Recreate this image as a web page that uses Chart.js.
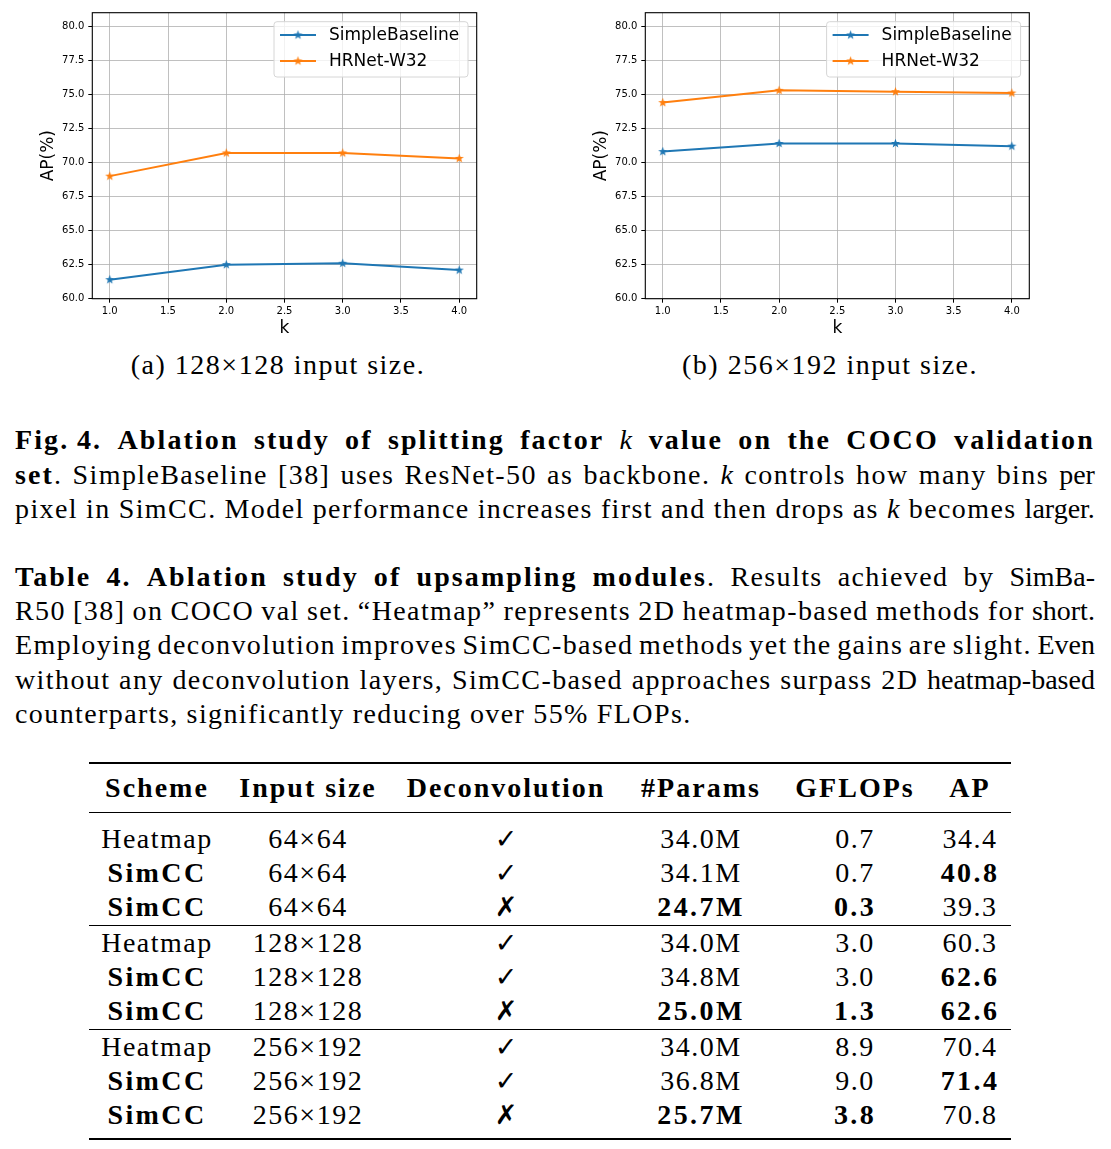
<!DOCTYPE html>
<html><head><meta charset="utf-8">
<script src="https://cdn.jsdelivr.net/npm/chart.js@4"></script>
<style>
html,body{margin:0;padding:0;background:#fff;}
body{width:1111px;height:1149px;position:relative;overflow:hidden;font-family:"Liberation Serif","Times New Roman",serif;color:#000;}
canvas.ch{position:absolute;top:0;}
.cap{position:absolute;width:440px;height:34px;line-height:34px;font-size:28px;letter-spacing:1.5px;text-align:center;white-space:nowrap;}
.ln{position:absolute;left:15px;width:1080px;height:34px;line-height:34px;font-size:28px;letter-spacing:1.4px;display:flex;justify-content:space-between;white-space:nowrap;}
.ln b{letter-spacing:2.1px;}
.ln span:last-child{letter-spacing:0;}
.ln.left{justify-content:flex-start;gap:8px;}
.ln.left span:last-child{letter-spacing:1.4px;}
.rule{position:absolute;left:89px;width:922px;background:#000;}
.cell{position:absolute;width:240px;height:34px;line-height:34px;font-size:28px;letter-spacing:1.5px;text-align:center;white-space:nowrap;}
.hd{font-weight:bold;letter-spacing:2px;}
.bf{font-weight:bold;letter-spacing:2.4px;}
.mk{font-family:"DejaVu Sans",sans-serif;font-size:27px;letter-spacing:0;}
</style>
</head><body>
<canvas id="chartA" class="ch" width="460" height="340" style="left:30px"></canvas>
<canvas id="chartB" class="ch" width="460" height="340" style="left:585px"></canvas>
<div id="texts"></div>
<script>
// ---- chart data ----
const kValues = [1, 2, 3, 4];
const seriesNames = ['SimpleBaseline', 'HRNet-W32'];
const sbA = [61.4, 62.5, 62.6, 62.1];
const hrA = [69.0, 70.7, 70.7, 70.3];
const sbB = [70.8, 71.4, 71.4, 71.2];
const hrB = [74.4, 75.3, 75.2, 75.1];
const yTicks = [60, 62.5, 65, 67.5, 70, 72.5, 75, 77.5, 80];
const xTicks = [1, 1.5, 2, 2.5, 3, 3.5, 4];
const yLabel = 'AP(%)';
const xLabel = 'k';
const subCaptions = ['(a) 128×128 input size.', '(b) 256×192 input size.'];

// ---- table data ----
const schemes = ['Heatmap','SimCC','SimCC','Heatmap','SimCC','SimCC','Heatmap','SimCC','SimCC'];
const inputSizes = ['64×64','64×64','64×64','128×128','128×128','128×128','256×192','256×192','256×192'];
const deconv = [true,true,false,true,true,false,true,true,false];
const params = ['34.0M','34.1M','24.7M','34.0M','34.8M','25.0M','34.0M','36.8M','25.7M'];
const gflops = ['0.7','0.7','0.3','3.0','3.0','1.3','8.9','9.0','3.8'];
const apVals = ['34.4','40.8','39.3','60.3','62.6','62.6','70.4','71.4','70.8'];
const apBold = [false,true,false,false,true,true,false,true,false];
const headers = ['Scheme','Input size','Deconvolution','#Params','GFLOPs','AP'];

const C0 = '#1f77b4', C1 = '#ff7f0e';

function starImg(color){
  const c = document.createElement('canvas'); c.width = 11; c.height = 11;
  const g = c.getContext('2d'); g.fillStyle = color; g.beginPath();
  for (let i = 0; i < 10; i++) {
    const r = i % 2 ? 2.0 : 4.8; const a = -Math.PI/2 + i*Math.PI/5;
    g.lineTo(5.5 + r*Math.cos(a), 5.5 + r*Math.sin(a));
  }
  g.closePath(); g.fill(); return c;
}
const starC0 = starImg(C0), starC1 = starImg(C1);

const boxPlugin = {
  id: 'mplBox',
  afterDraw(chart){
    const {ctx, chartArea: a} = chart;
    ctx.save();
    ctx.strokeStyle = '#000'; ctx.lineWidth = 1.1;
    ctx.strokeRect(a.left, a.top, a.right - a.left, a.bottom - a.top);
    // legend
    const w = 194, h = 55.3;
    const x0 = a.right - 8.7 - w, y0 = a.top + 9;
    ctx.beginPath();
    ctx.roundRect(x0, y0, w, h, 3);
    ctx.fillStyle = 'rgba(255,255,255,0.8)'; ctx.fill();
    ctx.strokeStyle = '#d6d6d6'; ctx.lineWidth = 1; ctx.stroke();
    const rows = [[y0 + 13.3, C0, starC0], [y0 + 39.3, C1, starC1]];
    rows.forEach((r, i) => {
      ctx.strokeStyle = r[1]; ctx.lineWidth = 2;
      ctx.beginPath(); ctx.moveTo(x0 + 6, r[0]); ctx.lineTo(x0 + 42, r[0]); ctx.stroke();
      ctx.drawImage(r[2], x0 + 24 - 5.5, r[0] - 5.5);
      ctx.fillStyle = '#000'; ctx.font = '17px "DejaVu Sans"'; ctx.textBaseline = 'middle'; ctx.textAlign = 'left';
      ctx.fillText(seriesNames[i], x0 + 55, r[0] + 1);
    });
    ctx.restore();
  }
};

function makeChart(id, sb, hr, yw, padRight, titlePad){
  return new Chart(document.getElementById(id), {
    type: 'line',
    data: {
      datasets: [
        {label: seriesNames[0], data: kValues.map((k,i)=>({x:k, y:sb[i]})), borderColor: C0, backgroundColor: C0, borderWidth: 2, pointStyle: starC0, pointRadius: 5, tension: 0},
        {label: seriesNames[1], data: kValues.map((k,i)=>({x:k, y:hr[i]})), borderColor: C1, backgroundColor: C1, borderWidth: 2, pointStyle: starC1, pointRadius: 5, tension: 0}
      ]
    },
    options: {
      responsive: false, animation: false, devicePixelRatio: 1,
      layout: {padding: {left: 0, top: 12.7, right: padRight, bottom: 0}},
      plugins: {legend: {display: false}, tooltip: {enabled: false}},
      scales: {
        x: {
          type: 'linear', min: 0.85, max: 4.15,
          afterBuildTicks(s){ s.ticks = xTicks.map(v => ({value: v})); },
          afterFit(s){ s.height = 41.3; },
          grid: {color: '#b0b0b0', lineWidth: 0.8, tickColor: '#000', tickLength: 4, tickWidth: 1},
          border: {display: false},
          ticks: {color: '#000', font: {family: 'DejaVu Sans', size: 10}, padding: 3, maxRotation: 0, callback: v => v.toFixed(1)},
          title: {display: true, text: xLabel, color: '#000', font: {family: 'DejaVu Sans', size: 17}, padding: {top: 0, bottom: 1.5}}
        },
        y: {
          type: 'linear', min: 60, max: 81,
          afterBuildTicks(s){ s.ticks = yTicks.map(v => ({value: v})); },
          afterFit(s){ s.width = yw; },
          grid: {color: '#b0b0b0', lineWidth: 0.8, tickColor: '#000', tickLength: 4, tickWidth: 1},
          border: {display: false},
          ticks: {color: '#000', font: {family: 'DejaVu Sans', size: 10}, padding: 4, callback: v => v.toFixed(1)},
          title: {display: true, text: yLabel, color: '#000', font: {family: 'DejaVu Sans', size: 17}, padding: {top: titlePad, bottom: 0}}
        }
      }
    },
    plugins: [boxPlugin]
  });
}
makeChart('chartA', sbA, hrA, 62.3, 13.3, 8.1);
makeChart('chartB', sbB, hrB, 60.3, 15.7, 6.1);

// ---- text ----
const T = document.getElementById('texts');
function add(html){ T.insertAdjacentHTML('beforeend', html); }
add(`<div class="cap" style="left:58px;top:348px">${subCaptions[0]}</div>`);
add(`<div class="cap" style="left:610px;top:348px">${subCaptions[1]}</div>`);

function fmtWord(w){
  return w.replace(/\*([^*]+)\*/g, '<b>$1</b>').replace(/_([^_]+)_/g, '<i>$1</i>');
}
function addLine(str, cy, justify){
  const words = str.split(' ').map(w => `<span>${fmtWord(w)}</span>`).join('');
  add(`<div class="ln${justify ? '' : ' left'}" style="top:${cy - 17}px">${words}</div>`);
}
const figLines = [
  '*Fig.\u20094.* *Ablation* *study* *of* *splitting* *factor* _k_ *value* *on* *the* *COCO* *validation*',
  '*set*. SimpleBaseline [38] uses ResNet-50 as backbone. _k_ controls how many bins per',
  'pixel in SimCC. Model performance increases first and then drops as _k_ becomes larger.'
];
const figY = [440, 475, 509];
figLines.forEach((l, i) => addLine(l, figY[i], true));
const tabLines = [
  '*Table* *4.* *Ablation* *study* *of* *upsampling* *modules*. Results achieved by SimBa-',
  'R50 [38] on COCO val set. “Heatmap” represents 2D heatmap-based methods for short.',
  'Employing deconvolution improves SimCC-based methods yet the gains are slight. Even',
  'without any deconvolution layers, SimCC-based approaches surpass 2D heatmap-based',
  'counterparts, significantly reducing over 55% FLOPs.'
];
const tabY = [577, 611, 645, 680, 714];
tabLines.forEach((l, i) => addLine(l, tabY[i], i < 4));

// ---- table ----
const colX = [157, 308, 506, 701, 855, 970];
function cell(txt, cx, cy, cls){
  add(`<div class="cell ${cls||''}" style="left:${cx - 120}px;top:${cy - 17}px">${txt}</div>`);
}
headers.forEach((h, j) => cell(h, colX[j], 788, 'hd'));
add('<div class="rule" style="top:762px;height:2px"></div>');
add('<div class="rule" style="top:812px;height:1.3px"></div>');
add('<div class="rule" style="top:925px;height:1.3px"></div>');
add('<div class="rule" style="top:1029px;height:1.3px"></div>');
add('<div class="rule" style="top:1138px;height:2px"></div>');
schemes.forEach((s, i) => {
  const g = Math.floor(i / 3), r = i % 3;
  const cy = 839.3 + g * 103.7 + r * 33.9;
  cell(s, colX[0], cy, s === 'SimCC' ? 'bf' : '');
  cell(inputSizes[i], colX[1], cy);
  cell(deconv[i] ? '✓' : '<b>✗</b>', colX[2], cy, 'mk');
  cell(params[i], colX[3], cy, deconv[i] ? '' : 'bf');
  cell(gflops[i], colX[4], cy, deconv[i] ? '' : 'bf');
  cell(apVals[i], colX[5], cy, apBold[i] ? 'bf' : '');
});
</script>
</body></html>
